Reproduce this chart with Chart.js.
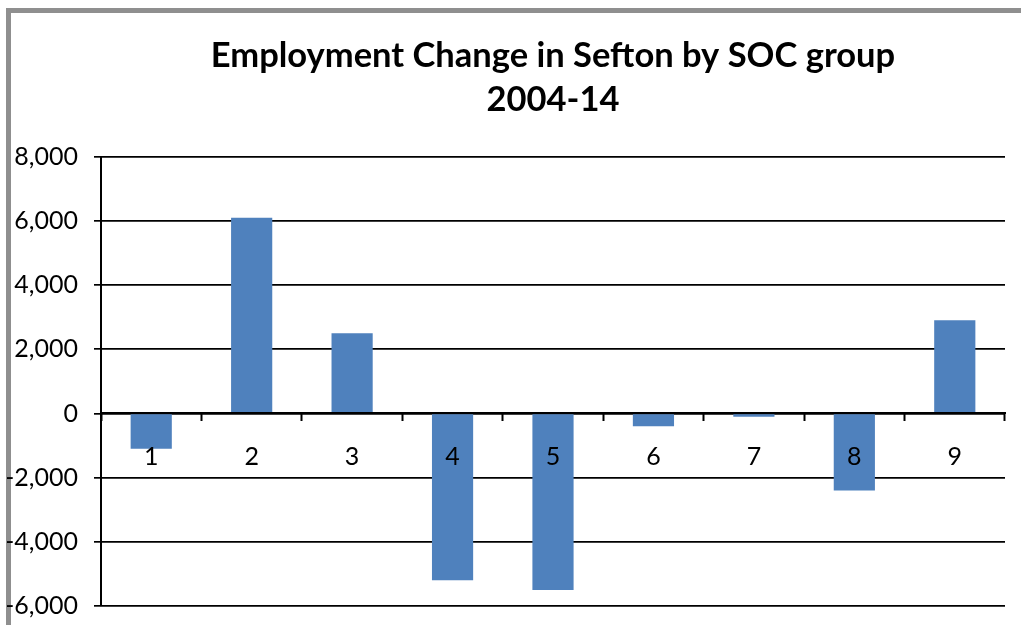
<!DOCTYPE html>
<html>
<head>
<meta charset="utf-8">
<title>Employment Change in Sefton by SOC group</title>
<script src="https://cdn.jsdelivr.net/npm/chart.js@4/dist/chart.umd.min.js"></script>
<style>
    body { margin: 0; background: #fff; }
    /* the plot runs to the bottom edge; the extra canvas height is clipped */
    .wrap { position: relative; width: 1021px; height: 625px; overflow: hidden; }
    /* grey frame of the chart object, partly cut off */
    .frame {
        position: absolute; left: 6px; top: 8px; right: -10px; bottom: -10px;
        border-left: 5px solid #8f8f8f; border-top: 5px solid #8f8f8f;
    }
    canvas { position: absolute; left: 0; top: 0; }
</style>
</head>
<body>
<div class="wrap">
    <div class="frame"></div>
    <canvas id="chart" width="1021" height="637"></canvas>
</div>
<script>
// SOC major groups and change in employment 2004-14
const categories = ['1', '2', '3', '4', '5', '6', '7', '8', '9'];
const changes = [-1100, 6100, 2500, -5200, -5500, -400, -100, -2400, 2900];

const yMin = -6000;
const yMax = 8000;
const yStep = 2000;

const titleLines = ['Employment Change in Sefton by SOC group', '2004-14'];

const FONT = 'Lato, "Open Sans", sans-serif';

const ctx = document.getElementById('chart').getContext('2d');

new Chart(ctx, {
    type: 'bar',
    data: {
        labels: categories,
        datasets: [{
            label: 'Change',
            data: changes,
            backgroundColor: '#4f81bd',
            borderWidth: 0,
            barPercentage: 0.41,
            categoryPercentage: 1
        }]
    },
    options: {
        responsive: false,
        animation: false,
        layout: {
            padding: { left: 7, right: 16, top: 0, bottom: 7 }
        },
        plugins: {
            legend: { display: false },
            tooltip: { enabled: false },
            title: {
                display: true,
                text: titleLines,
                fullSize: false,
                color: '#000',
                font: { family: FONT, size: 34.5, weight: 'bold', lineHeight: 1.3 },
                padding: { top: 33, bottom: 34 }
            }
        },
        scales: {
            x: {
                position: { y: 0 },
                grid: {
                    display: true,
                    drawOnChartArea: false,
                    drawTicks: true,
                    tickLength: 7,
                    tickWidth: 2,
                    color: '#000',
                    offset: true,
                    z: 1
                },
                border: { display: true, color: '#000', width: 2, z: 1 },
                ticks: {
                    color: '#000',
                    padding: 21,
                    maxRotation: 0,
                    font: { family: FONT, size: 25 },
                    z: 1
                }
            },
            y: {
                min: yMin,
                max: yMax,
                afterFit: scale => { scale.width = 94; },
                grid: {
                    color: '#000',
                    lineWidth: 1.7,
                    tickLength: 7,
                    drawTicks: true
                },
                border: { display: true, color: '#000', width: 2 },
                ticks: {
                    stepSize: yStep,
                    color: '#000',
                    padding: 16,
                    font: { family: FONT, size: 25 },
                    callback: v => v.toLocaleString('en-US')
                }
            }
        }
    }
});
</script>
</body>
</html>
